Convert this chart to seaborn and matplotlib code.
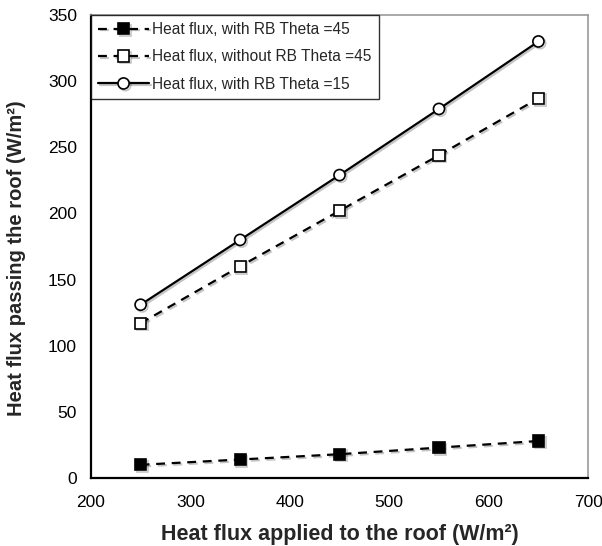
import matplotlib
matplotlib.use("Agg")
import matplotlib.pyplot as plt
import matplotlib.patheffects as pe
import seaborn as sns
import pandas as pd

applied = [250, 350, 450, 550, 650]
with_rb_45 = [10, 14, 18, 23, 28]
without_rb_45 = [117, 160, 202, 244, 287]
with_rb_15 = [131, 180, 229, 279, 330]
labels = [
    "Heat flux, with RB Theta =45",
    "Heat flux, without RB Theta =45",
    "Heat flux, with RB Theta =15",
]

sns.set_theme(style="white")
plt.rcParams["font.family"] = ["Liberation Sans", "DejaVu Sans"]

df = pd.DataFrame({
    "applied": applied * 3,
    "passing": with_rb_45 + without_rb_45 + with_rb_15,
    "series": [labels[0]] * 5 + [labels[1]] * 5 + [labels[2]] * 5,
})

fig = plt.figure(figsize=(6.02, 5.46), dpi=100)
ax = fig.add_axes([0.151, 0.1245, 0.826, 0.848])

styles = {
    labels[0]: dict(marker="s", ls=(0, (4, 3)), mfc="black"),
    labels[1]: dict(marker="s", ls=(0, (4, 3)), mfc="white"),
    labels[2]: dict(marker="o", ls="-", mfc="white"),
}
shadow = [pe.SimpleLineShadow(offset=(1.2, -1.2), alpha=0.25), pe.Normal()]
for lab in labels:
    sub = df[df["series"] == lab]
    st = styles[lab]
    sns.lineplot(data=sub, x="applied", y="passing", ax=ax, color="black",
                 linestyle=st["ls"], linewidth=1.6, marker=st["marker"],
                 markersize=8, markerfacecolor=st["mfc"],
                 markeredgecolor="black", markeredgewidth=1.2,
                 label=lab, path_effects=shadow)

ax.set_xlim(200, 700)
ax.set_ylim(0, 350)
ax.set_xticks(range(200, 701, 100))
ax.set_yticks(range(0, 351, 50))
ax.tick_params(axis="both", which="major", direction="out", length=4,
               width=1, labelsize=12.5, colors="black", pad=6)
ax.tick_params(axis="x", pad=8)
for side in ["left", "bottom"]:
    ax.spines[side].set_color("black")
    ax.spines[side].set_linewidth(1.6)
for side in ["top", "right"]:
    ax.spines[side].set_color("#999999")
    ax.spines[side].set_linewidth(1.2)

ax.set_xlabel("Heat flux applied to the roof (W/m²)", fontsize=15.5,
              fontweight="bold", labelpad=10)
ax.set_ylabel("Heat flux passing the roof (W/m²)", fontsize=14.5,
              fontweight="bold", labelpad=10)
ax.yaxis.set_label_coords(-0.13, 0.475)

leg = ax.legend(loc="upper left", bbox_to_anchor=(0.0, 1.0), fontsize=11.2,
                frameon=True, fancybox=False, borderpad=0.45,
                labelspacing=0.8, handlelength=3.3, handletextpad=0.2,
                borderaxespad=0.0)
leg.get_frame().set_edgecolor("black")
leg.get_frame().set_linewidth(1.0)

fig.savefig("out.png", dpi=100)
